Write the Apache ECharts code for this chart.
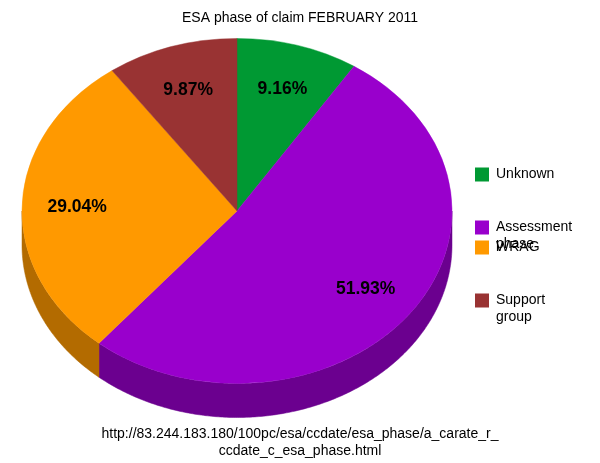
<!DOCTYPE html>
<html><head><meta charset="utf-8">
<style>html,body{margin:0;padding:0;background:#fff}#c{width:600px;height:463px}</style>
<script src="https://cdn.jsdelivr.net/npm/echarts@6/dist/echarts.min.js"></script>
</head><body><div id="c"></div>
<script>
var categories = ['Unknown', 'Assessment phase', 'WRAG', 'Support group'];
var values = [9.16, 51.93, 29.04, 9.87];
var topColors = ['#009933', '#9900CC', '#FF9900', '#993333'];
var wallColors = ['#006B24', '#6B008F', '#B36B00', '#6B2424'];
var legendTops = [166, 202, 239, 275];

var FONT = '"Liberation Sans", Arial, sans-serif';
var CX = 237, CY = 211, RX = 215, RY = 172.5, DEPTH = 34, LABEL_R = 160;
var total = values.reduce(function (a, b) { return a + b; }, 0);

function sliceStart(i) {
  var s = 0;
  for (var k = 0; k < i; k++) s += values[k];
  return s / total * Math.PI * 2;
}
function rim(t, dy) {
  return [CX + RX * Math.sin(t), CY - RY * Math.cos(t) + dy];
}
function wallPoints(a, b) {
  var lo = Math.max(a, Math.PI / 2), hi = Math.min(b, Math.PI * 1.5);
  if (hi <= lo) return null;
  var pts = [], n = Math.ceil((hi - lo) / 0.01), j;
  for (j = 0; j <= n; j++) pts.push(rim(lo + (hi - lo) * j / n, 0));
  for (j = n; j >= 0; j--) pts.push(rim(lo + (hi - lo) * j / n, DEPTH));
  return pts;
}

var series = categories.map(function (name, i) {
  return {
    type: 'custom',
    name: name,
    coordinateSystem: 'none',
    silent: true,
    itemStyle: { color: topColors[i] },
    data: [values[i]],
    renderItem: function (params, api) {
      var v = api.value(0);
      var a = sliceStart(i), b = a + v / total * Math.PI * 2, mid = (a + b) / 2;
      var children = [];
      var wall = wallPoints(a, b);
      if (wall) children.push({
        type: 'polygon', shape: { points: wall },
        style: { fill: wallColors[i], stroke: wallColors[i], lineWidth: 0.5 }
      });
      children.push({
        type: 'sector', x: CX, y: CY, scaleY: RY / RX,
        shape: { cx: 0, cy: 0, r0: 0, r: RX, startAngle: a - Math.PI / 2, endAngle: b - Math.PI / 2, clockwise: true },
        style: { fill: topColors[i], stroke: topColors[i], lineWidth: 0.5 }
      });
      children.push({
        type: 'text', z2: 10,
        x: CX + LABEL_R * Math.sin(mid),
        y: CY + 1.5 - LABEL_R * RY / RX * Math.cos(mid),
        style: { text: v.toFixed(2) + '%', fill: '#000', font: 'bold 17.5px ' + FONT, align: 'center', verticalAlign: 'middle' }
      });
      return { type: 'group', children: children };
    }
  };
});

var legends = categories.map(function (name, i) {
  var twoLine = name.indexOf(' ') >= 0;
  return {
    orient: 'vertical',
    left: 475,
    top: legendTops[i],
    padding: 0,
    itemWidth: 14, itemHeight: 14, itemGap: 0,
    selectedMode: false,
    icon: 'rect',
    data: [name],
    formatter: function (n) {
      var parts = n.split(' ');
      if (parts.length > 1) parts.unshift('\u00a0');
      return parts.map(function (p) { return '{t|' + p + '}'; }).join('\n');
    },
    textStyle: {
      fontFamily: FONT, fontSize: 14, color: '#000', lineHeight: 17,
      rich: { t: { fontFamily: FONT, fontSize: 14, color: '#000', lineHeight: 17, padding: [0, 0, 0, 2] } }
    }
  };
});

var chart = echarts.init(document.getElementById('c'), null, { renderer: 'canvas' });
chart.setOption({
  animation: false,
  backgroundColor: '#fff',
  title: [
    { text: 'ESA phase of claim FEBRUARY 2011', left: 300, top: 11, textAlign: 'center', padding: 0,
      textStyle: { fontFamily: FONT, fontSize: 14, fontWeight: 'normal', color: '#000' } },
    { text: 'http://83.244.183.180/100pc/esa/ccdate/esa_phase/a_carate_r_\nccdate_c_esa_phase.html', left: 300, top: 426, textAlign: 'center', padding: 0,
      textStyle: { fontFamily: FONT, fontSize: 14, fontWeight: 'normal', color: '#000', lineHeight: 17, align: 'center' } }
  ],
  legend: legends,
  series: series
});
</script></body></html>
